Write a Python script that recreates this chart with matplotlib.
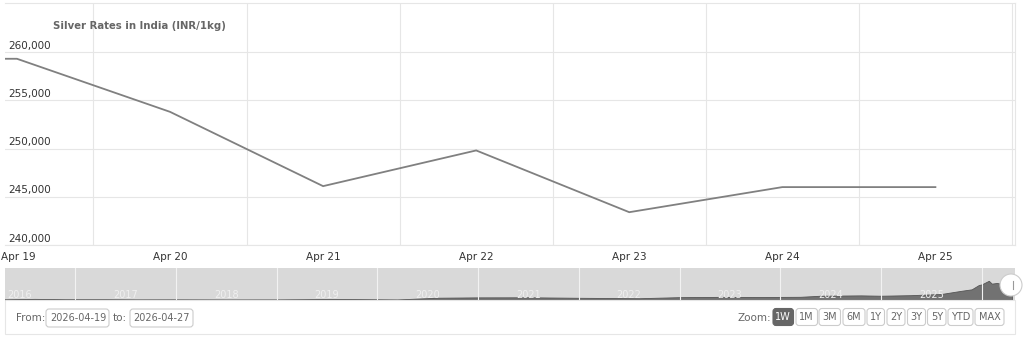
import matplotlib.pyplot as plt
from matplotlib.patches import FancyBboxPatch, Rectangle, Circle
import matplotlib.transforms as mtransforms

# main series: day offset from Apr 19 and rate (INR/kg)
days = [-1, 0, 1, 2, 3, 4, 5, 6]
rates = [259300, 259300, 253800, 246100, 249800, 243400, 246000, 246000]
day_labels = ["Apr 19", "Apr 20", "Apr 21", "Apr 22", "Apr 23", "Apr 24", "Apr 25"]
y_ticks = [240000, 245000, 250000, 255000, 260000]

# navigator series (year fraction, value)
nav_t = [2016.3, 2016.6, 2016.9, 2017.3, 2017.6, 2018.0, 2018.5, 2019.0, 2019.6,
         2020.2, 2020.6, 2021.0, 2021.5, 2022.0, 2022.6, 2023.0, 2023.4, 2023.8,
         2024.2, 2024.4, 2024.8, 2025.0, 2025.3, 2025.6, 2025.8, 2025.9, 2025.97,
         2026.0, 2026.07, 2026.1, 2026.15, 2026.2, 2026.3]
nav_v = [40000, 46000, 41000, 41000, 39000, 39500, 38000, 38500, 45000,
         38000, 62000, 67000, 68000, 61000, 55000, 70000, 74000, 72000,
         75000, 90000, 95000, 90000, 98000, 115000, 160000, 180000, 240000,
         250000, 300000, 260000, 270000, 255000, 246000]
nav_years = [2016, 2017, 2018, 2019, 2020, 2021, 2022, 2023, 2024, 2025]

zoom_buttons = ["1W", "1M", "3M", "6M", "1Y", "2Y", "3Y", "5Y", "YTD", "MAX"]

W, H = 1024, 341
fig = plt.figure(figsize=(W / 100, H / 100), dpi=100)
fig.patch.set_facecolor("white")


def px_axes(x0, y0, x1, y1):
    return fig.add_axes([x0 / W, 1 - y1 / H, (x1 - x0) / W, (y1 - y0) / H])


grid_c = "#e6e6e6"

# ---- main chart
ax = px_axes(5, 3, 1015, 245)
ax.plot(days, rates, color="#808080", lw=1.3, solid_joinstyle="miter")
ax.set_xlim(-0.078, 6.52)
ax.set_ylim(240000, 265080)
for y in y_ticks:
    ax.axhline(y, color=grid_c, lw=0.8, zorder=0)
for d in range(7):
    ax.axvline(d + 0.5, color=grid_c, lw=0.8, zorder=0)
ax.set_xticks([])
ax.set_yticks([])
for s in ax.spines.values():
    s.set_color(grid_c)
    s.set_linewidth(0.8)
ax.spines["left"].set_visible(False)
tr = mtransforms.blended_transform_factory(ax.transAxes, ax.transData)
for y in y_ticks:
    ax.text(3 / 1010, y + 150, f"{y:,}", transform=tr, fontsize=7.5,
            color="#333333", va="bottom", ha="left")
for i, lab in enumerate(day_labels):
    if i == 0:
        # first label sits against the left edge
        ax.text(-4 / 1010, 240000 - 700, lab, transform=tr, fontsize=7.5,
                color="#333333", ha="left", va="top", clip_on=False)
    else:
        ax.text(i, 240000 - 700, lab, fontsize=7.5, color="#333333",
                ha="center", va="top", clip_on=False)
ax.text(48 / 1010, 0.905, "Silver Rates in India (INR/1kg)", transform=ax.transAxes,
        fontsize=7.3, fontweight="bold", color="#666666", ha="left", va="center")

# ---- navigator
nav = px_axes(5, 268, 1015, 300)
nav.set_facecolor("#d9d9d9")
nav.fill_between(nav_t, nav_v, 30000, color="#727272", lw=0.6, edgecolor="#555555")
nav.set_xlim(2016.305, 2026.33)
nav.set_ylim(30000, 480000)
for yr in nav_years[1:] + [2026]:
    nav.axvline(yr, color="#f2f2f2", lw=0.8, zorder=1)
for yr in nav_years:
    nav.text(yr + 0.5 if yr > 2016 else 2016.45, 33000, str(yr), fontsize=7,
             color="#f0f0f0", ha="center", va="bottom", zorder=3)
nav.set_xticks([])
nav.set_yticks([])
for s in nav.spines.values():
    s.set_visible(False)

# ---- overlay for frame, handle and range selector
ov = fig.add_axes([0, 0, 1, 1])
ov.set_xlim(0, W)
ov.set_ylim(H, 0)
ov.axis("off")
ov.patch.set_alpha(0)
ov.add_patch(Rectangle((5, 300), 1010, 34, fill=False, edgecolor=grid_c, lw=0.8))
ov.add_patch(Circle((1011, 285), 11, facecolor="white", edgecolor="#cccccc", lw=0.8))
ov.plot([1013, 1013], [281, 289], color="#999999", lw=0.8)

ov.text(16, 318, "From:", fontsize=7.5, color="#666666", va="center", ha="left")
ov.add_patch(FancyBboxPatch((46, 309), 63, 18, boxstyle="round,pad=0,rounding_size=3",
                            facecolor="white", edgecolor="#cccccc", lw=0.8))
ov.text(78, 318, "2026-04-19", fontsize=7, color="#666666", va="center", ha="center")
ov.text(113, 318, "to:", fontsize=7.5, color="#666666", va="center", ha="left")
ov.add_patch(FancyBboxPatch((130, 309), 63, 18, boxstyle="round,pad=0,rounding_size=3",
                            facecolor="white", edgecolor="#cccccc", lw=0.8))
ov.text(162, 318, "2026-04-27", fontsize=7, color="#666666", va="center", ha="center")

ov.text(738, 318, "Zoom:", fontsize=7.5, color="#666666", va="center", ha="left")
btn_x = [773, 796, 819, 843, 867, 887, 907.5, 927.5, 948, 975]
btn_w = [20.5, 21.5, 21.5, 22, 17.5, 18, 18, 18.5, 25, 29]
for i, lab in enumerate(zoom_buttons):
    active = i == 0
    ov.add_patch(FancyBboxPatch((btn_x[i], 308.5), btn_w[i], 17,
                                boxstyle="round,pad=0,rounding_size=3",
                                facecolor="#666666" if active else "white",
                                edgecolor="#666666" if active else "#cccccc", lw=0.8))
    ov.text(btn_x[i] + btn_w[i] / 2, 317, lab, fontsize=7, ha="center", va="center",
            color="white" if active else "#666666")

fig.savefig("out.png", dpi=100)
